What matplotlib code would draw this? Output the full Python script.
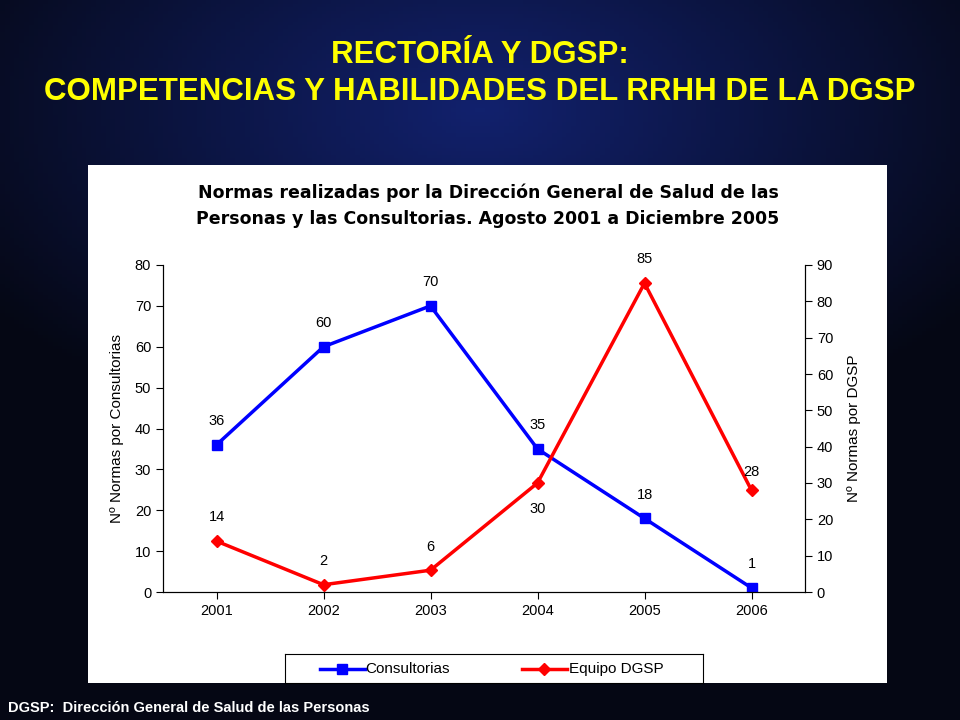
import matplotlib
matplotlib.use("Agg")
import matplotlib.pyplot as plt
import numpy as np
from matplotlib.patches import Rectangle

years = ["2001", "2002", "2003", "2004", "2005", "2006"]
consultorias = [36, 60, 70, 35, 18, 1]
dgsp = [14, 2, 6, 30, 85, 28]

plt.rcParams["font.family"] = "Liberation Sans"
W, H = 960, 720
fig = plt.figure(figsize=(9.6, 7.2), dpi=100)
bg = fig.add_axes([0, 0, 1, 1])
yy, xx = np.mgrid[0:1:200j, 0:1:200j]
r = np.sqrt((xx - 0.5) ** 2 + ((yy - 0.15) * 1.3) ** 2)
g = np.clip(1 - r * 1.6, 0, 1)
img = np.dstack([0.02 + 0.05 * g, 0.03 + 0.1 * g, 0.08 + 0.35 * g])
bg.imshow(img, extent=[0, W, H, 0], aspect="auto")
bg.set_xlim(0, W); bg.set_ylim(H, 0); bg.axis("off")
bg.add_patch(Rectangle((88, 165), 799, 518, facecolor="white", edgecolor="none"))
bg.text(480, 55, "RECTORÍA Y DGSP:", color="#ffff00", fontsize=22.5, fontweight="bold",
        ha="center", va="center")
bg.text(480, 92, "COMPETENCIAS Y HABILIDADES DEL RRHH DE LA DGSP", color="#ffff00", fontsize=22.5,
        fontweight="bold", ha="center", va="center")
bg.text(8, 708, "DGSP:  Dirección General de Salud de las Personas", color="white", fontsize=10.5,
        fontweight="bold", ha="left", va="center")
bg.text(488, 206, "Normas realizadas por la Dirección General de Salud de las\nPersonas y las Consultorias. Agosto 2001 a Diciembre 2005",
        fontsize=12.5, fontweight="bold", ha="center", va="center", linespacing=1.55, family="DejaVu Sans")

ax = fig.add_axes([163 / W, 1 - 592 / H, (805 - 163) / W, (592 - 265) / H])
ax2 = ax.twinx()
x = np.arange(len(years))
ax.plot(x, consultorias, color="#0000ff", marker="s", ms=7, lw=2.5)
ax2.plot(x, dgsp, color="#ff0000", marker="D", ms=6, lw=2.5)
ax.set_xlim(-0.5, 5.5)
ax.set_ylim(0, 80); ax.set_yticks(range(0, 81, 10))
ax2.set_ylim(0, 90); ax2.set_yticks(range(0, 91, 10))
ax.set_xticks(x); ax.set_xticklabels(years)
for a in (ax, ax2):
    a.tick_params(labelsize=10.5, direction="out", length=5)
    a.spines["top"].set_visible(False)
ax.set_ylabel("Nº Normas por Consultorias", fontsize=11, labelpad=8)
ax2.set_ylabel("Nº Normas por DGSP", fontsize=11, labelpad=10)
for i, v in enumerate(consultorias):
    ax.annotate(str(v), (i, v), xytext=(0, 12), textcoords="offset points", ha="center", va="bottom", fontsize=10.5)
offs = [(0, 12), (0, 12), (0, 12), (0, -24), (0, 12), (0, 8)]
for i, v in enumerate(dgsp):
    ax2.annotate(str(v), (i, v), xytext=offs[i], textcoords="offset points", ha="center", va="bottom", fontsize=10.5)

lax = fig.add_axes([285 / W, 1 - 683 / H, (703 - 285) / W, 29 / H])
lax.set_xlim(0, 418); lax.set_ylim(0, 29); lax.set_xticks([]); lax.set_yticks([])
lax.plot([35, 80], [14, 14], color="#0000ff", lw=2.5)
lax.plot([57], [14], color="#0000ff", marker="s", ms=7)
lax.text(80, 14, "Consultorias", va="center", fontsize=11)
lax.plot([237, 282], [14, 14], color="#ff0000", lw=2.5)
lax.plot([259], [14], color="#ff0000", marker="D", ms=6)
lax.text(284, 14, "Equipo DGSP", va="center", fontsize=11)
fig.savefig("out.png", dpi=100)
